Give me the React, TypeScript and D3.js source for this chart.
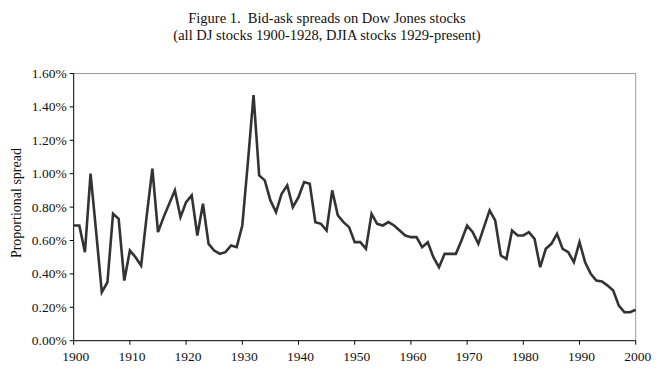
import React from "react";
import * as d3 from "d3";

const years: number[] = d3.range(1900, 2001);
const spreads: number[] = [
  0.69, 0.69, 0.53, 1.0, 0.65, 0.29, 0.35, 0.76, 0.73, 0.36,
  0.54, 0.5, 0.45, 0.75, 1.03, 0.65, 0.74, 0.82, 0.9, 0.74,
  0.83, 0.87, 0.63, 0.82, 0.58, 0.54, 0.52, 0.53, 0.57, 0.56,
  0.69, 1.07, 1.47, 0.99, 0.96, 0.84, 0.77, 0.88, 0.93, 0.8,
  0.86, 0.95, 0.94, 0.71, 0.7, 0.66, 0.9, 0.75, 0.71, 0.68,
  0.59, 0.59, 0.55, 0.76, 0.7, 0.69, 0.71, 0.69, 0.66, 0.63,
  0.62, 0.62, 0.56, 0.59, 0.5, 0.44, 0.52, 0.52, 0.52, 0.6,
  0.69, 0.65, 0.58, 0.68, 0.78, 0.72, 0.51, 0.49, 0.66, 0.63,
  0.63, 0.65, 0.61, 0.44, 0.55, 0.58, 0.64, 0.55, 0.53, 0.47,
  0.59, 0.47, 0.4, 0.36, 0.355, 0.33, 0.3, 0.21, 0.17, 0.17,
  0.185,
];
const yTicks: number[] = [0, 0.2, 0.4, 0.6, 0.8, 1.0, 1.2, 1.4, 1.6];
const xTicks: number[] = d3.range(1900, 2001, 10);
const titleLines: string[] = [
  "Figure 1.  Bid-ask spreads on Dow Jones stocks",
  "(all DJ stocks 1900-1928, DJIA stocks 1929-present)",
];
const yLabel = "Proportional spread";

export default function App() {
  const W = 661, H = 383;
  const left = 73.7, right = 635.7, top = 73.5, bottom = 340.7;
  const x = d3.scaleLinear().domain([1900, 2000]).range([left, right]);
  const y = d3.scaleLinear().domain([0, 1.6]).range([bottom, top]);
  const line = d3
    .line<number>()
    .x((_, i) => x(years[i]))
    .y((d) => y(d));
  const font = "'Liberation Serif', 'Times New Roman', serif";
  return (
    <svg
      width={W}
      height={H}
      style={{ position: "absolute", left: 0, top: 0, background: "#fff" }}
      fontFamily={font}
    >
      <rect x={0} y={0} width={W} height={H} fill="#fff" />
      {titleLines.map((t, i) => (
        <text
          key={i}
          x={327}
          y={23 + i * 17}
          textAnchor="middle"
          fontSize={14.5}
          fill="#111"
          style={{ whiteSpace: "pre" }}
        >
          {t}
        </text>
      ))}
      {/* plot border */}
      <line x1={left} x2={right} y1={top} y2={top} stroke="#999" strokeWidth={1} />
      <line x1={right} x2={right} y1={top} y2={bottom} stroke="#999" strokeWidth={1} />
      {/* axes */}
      <line x1={left} x2={left} y1={top} y2={bottom} stroke="#000" strokeWidth={1} />
      <line x1={left} x2={right} y1={bottom} y2={bottom} stroke="#000" strokeWidth={1} />
      {yTicks.map((t) => (
        <g key={t}>
          <line x1={left - 4} x2={left} y1={y(t)} y2={y(t)} stroke="#000" />
          <text x={left - 7} y={y(t) + 4.5} textAnchor="end" fontSize={13.5} fill="#111">
            {t.toFixed(2) + "%"}
          </text>
        </g>
      ))}
      {xTicks.map((t) => (
        <g key={t}>
          <line x1={x(t)} x2={x(t)} y1={bottom} y2={bottom + 4} stroke="#000" />
          <text x={x(t) + 2} y={bottom + 20} textAnchor="middle" fontSize={13.5} fill="#111">
            {t}
          </text>
        </g>
      ))}
      <text
        transform={`translate(21,${(top + bottom) / 2 - 4}) rotate(-90)`}
        textAnchor="middle"
        fontSize={14}
        fill="#111"
      >
        {yLabel}
      </text>
      <path
        d={line(spreads) || ""}
        fill="none"
        stroke="#333"
        strokeWidth={2.6}
        strokeLinejoin="miter"
      />
    </svg>
  );
}
